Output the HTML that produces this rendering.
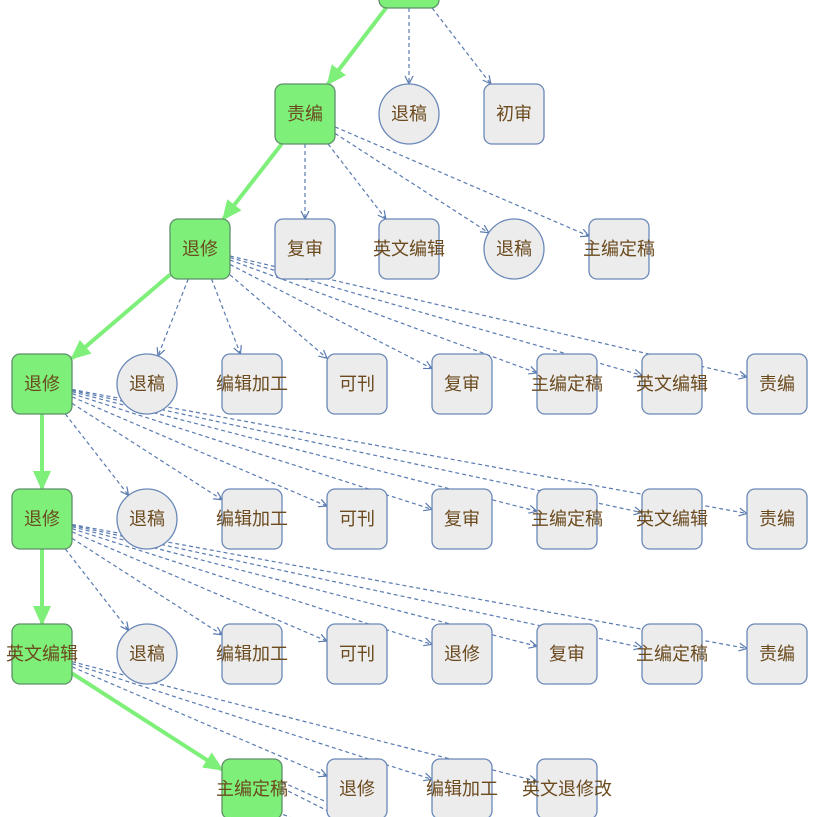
<!DOCTYPE html>
<html><head><meta charset="utf-8"><style>
html,body{margin:0;padding:0;background:#fff;width:823px;height:817px;overflow:hidden}
text{font-family:"Liberation Sans","Noto Sans CJK SC",sans-serif;font-size:18px;fill:#6b4a1e}
</style></head><body>
<svg id="s" width="823" height="817" xmlns="http://www.w3.org/2000/svg">
<defs>
<marker id="oa" markerWidth="10" markerHeight="10" refX="9" refY="5" orient="auto" markerUnits="userSpaceOnUse"><path d="M1,1 L9,5 L1,9" fill="none" stroke="#5a7bb0" stroke-width="1.2"/></marker>
<marker id="ga" markerWidth="22" markerHeight="22" refX="18" refY="11" orient="auto" markerUnits="userSpaceOnUse"><path d="M0,2 L20,11 L0,20 Z" fill="#7ef07a"/></marker>
</defs>
<g id="e"></g><g id="n"></g>
</svg>
<script>
var N={};
function node(id,x,y,t,type){N[id]={x:x,y:y,t:t,type:type};}
node('r0',409,-22,'','g');
node('a',305,114,'责编','g');node('a1',409,114,'退稿','c');node('a2',514,114,'初审','r');
node('b',200,249,'退修','g');node('b1',305,249,'复审','r');node('b2',409,249,'英文编辑','r');node('b3',514,249,'退稿','c');node('b4',619,249,'主编定稿','r');
var cx=[42,147,252,357,462,567,672,777];
var r3=['退修','退稿','编辑加工','可刊','复审','主编定稿','英文编辑','责编'];
var r5=['英文编辑','退稿','编辑加工','可刊','退修','复审','主编定稿','责编'];
for(var i=0;i<8;i++){node('c'+i,cx[i],384,r3[i],i==0?'g':(i==1?'c':'r'));node('d'+i,cx[i],519,r3[i],i==0?'g':(i==1?'c':'r'));node('f'+i,cx[i],654,r5[i],i==0?'g':(i==1?'c':'r'));}
node('h0',252,789,'主编定稿','g');node('h1',357,789,'退修','r');node('h2',462,789,'编辑加工','r');node('h3',567,789,'英文退修改','r');
function clip(n,dx,dy){var L=Math.hypot(dx,dy);if(n.type=='c')return [n.x+dx/L*30,n.y+dy/L*30];var s=30/Math.max(Math.abs(dx),Math.abs(dy));return [n.x+dx*s,n.y+dy*s];}
var E=document.getElementById('e'),G=document.getElementById('n'),ns='http://www.w3.org/2000/svg';
function edge(a,b,green){var A=N[a],B=N[b];var dx=B.x-A.x,dy=B.y-A.y;var p=clip(A,dx,dy),q=clip(B,-dx,-dy);
var l=document.createElementNS(ns,'line');l.setAttribute('x1',p[0]);l.setAttribute('y1',p[1]);l.setAttribute('x2',q[0]);l.setAttribute('y2',q[1]);
if(green){l.setAttribute('stroke','#7ef07a');l.setAttribute('stroke-width','4');l.setAttribute('marker-end','url(#ga)');}
else{l.setAttribute('stroke','#5a7bb0');l.setAttribute('stroke-width','1.2');l.setAttribute('stroke-dasharray','4,3');l.setAttribute('marker-end','url(#oa)');}
E.appendChild(l);}
edge('r0','a',1);edge('r0','a1');edge('r0','a2');
edge('a','b',1);edge('a','b1');edge('a','b2');edge('a','b3');edge('a','b4');
edge('b','c0',1);for(i=1;i<8;i++)edge('b','c'+i);
edge('c0','d0',1);for(i=1;i<8;i++)edge('c0','d'+i);
edge('d0','f0',1);for(i=1;i<8;i++)edge('d0','f'+i);
edge('f0','h0',1);edge('f0','h1');edge('f0','h2');edge('f0','h3');
[[282,782,360,817],[282,788,340,817],[270,810,290,817]].forEach(function(c){var l=document.createElementNS(ns,'line');l.setAttribute('x1',c[0]);l.setAttribute('y1',c[1]);l.setAttribute('x2',c[2]);l.setAttribute('y2',c[3]);l.setAttribute('stroke','#5a7bb0');l.setAttribute('stroke-width','1.2');l.setAttribute('stroke-dasharray','4,3');E.appendChild(l);});
for(var k in N){var n=N[k],sh;
if(n.type=='c'){sh=document.createElementNS(ns,'circle');sh.setAttribute('cx',n.x);sh.setAttribute('cy',n.y);sh.setAttribute('r',30);}
else{sh=document.createElementNS(ns,'rect');sh.setAttribute('x',n.x-30);sh.setAttribute('y',n.y-30);sh.setAttribute('width',60);sh.setAttribute('height',60);sh.setAttribute('rx',8);}
sh.setAttribute('fill',n.type=='g'?'#7ef07a':'#ececec');sh.setAttribute('stroke',n.type=='g'?'#5f8f6a':'#6a88b8');sh.setAttribute('stroke-width','1.3');G.appendChild(sh);
if(n.t){var t=document.createElementNS(ns,'text');t.setAttribute('x',n.x);t.setAttribute('y',n.y+6);t.setAttribute('text-anchor','middle');t.textContent=n.t;G.appendChild(t);}}
</script>
</body></html>
